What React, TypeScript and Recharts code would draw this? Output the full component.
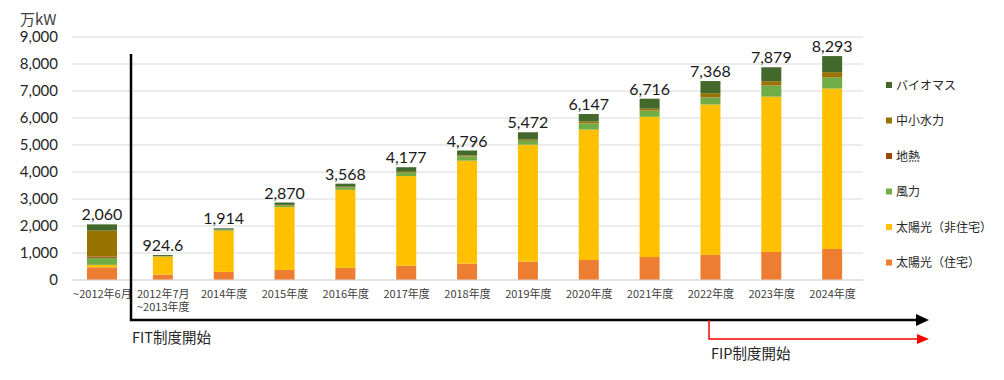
import React from "react";
import { BarChart, Bar, XAxis, YAxis, CartesianGrid, LabelList } from "recharts";

// 年度別 再エネ導入量（万kW）
const categories = [
  "~2012年6月",
  "2012年7月\n~2013年度",
  "2014年度",
  "2015年度",
  "2016年度",
  "2017年度",
  "2018年度",
  "2019年度",
  "2020年度",
  "2021年度",
  "2022年度",
  "2023年度",
  "2024年度",
];

const solarHome = [470, 200, 300, 370, 450, 530, 605, 680, 740, 850, 930, 1040, 1150];
const solarNonHome = [90, 665, 1530, 2330, 2890, 3318, 3815, 4330, 4830, 5195, 5570, 5750, 5940];
const wind = [260, 20, 30, 60, 85, 124, 150, 140, 225, 225, 260, 410, 410];
const geothermal = [50, 0.6, 1, 1, 2, 3, 3, 5, 8, 8, 10, 12, 13];
const hydro = [960, 4, 8, 20, 28, 32, 38, 45, 70, 68, 150, 150, 185];
const biomass = [230, 35, 45, 89, 113, 170, 185, 272, 274, 370, 448, 517, 595];
const totals = [2060, 924.6, 1914, 2870, 3568, 4177, 4796, 5472, 6147, 6716, 7368, 7879, 8293];

const yTicks = [0, 1000, 2000, 3000, 4000, 5000, 6000, 7000, 8000, 9000];

const series = [
  { key: "solarHome", name: "太陽光（住宅）", color: "#ED7D31", values: solarHome },
  { key: "solarNonHome", name: "太陽光（非住宅）", color: "#FFC000", values: solarNonHome },
  { key: "wind", name: "風力", color: "#70AD47", values: wind },
  { key: "geothermal", name: "地熱", color: "#9E480E", values: geothermal },
  { key: "hydro", name: "中小水力", color: "#997300", values: hydro },
  { key: "biomass", name: "バイオマス", color: "#43682B", values: biomass },
];

const data = categories.map((name, i) => {
  const row: Record<string, string | number> = { name, total: totals[i] };
  series.forEach((s) => {
    row[s.key] = s.values[i];
  });
  return row;
});

const jp = "'Noto Sans CJK JP', sans-serif";
const num = "Lato, 'Noto Sans CJK JP', sans-serif";

// first bar (FIT前) is drawn a bit wider
const BarShape = (props: any) => {
  const { x, y, width, height, fill, index } = props;
  if (!height || height <= 0) return null;
  const w = index === 0 ? width * 1.5 : width;
  return <rect x={x + width / 2 - w / 2} y={y} width={w} height={height} fill={fill} />;
};

const XTick = (props: any) => {
  const { x, y, payload } = props;
  const lines = String(payload.value).split("\n");
  return (
    <text x={x} y={y} textAnchor="middle" fill="#404040" fontSize={11} fontFamily={jp}>
      {lines.map((l, i) => (
        <tspan key={i} x={x} dy={i === 0 ? 10 : 13}>
          {l}
        </tspan>
      ))}
    </text>
  );
};

export default function App() {
  const legendItems = [...series].reverse();
  return (
    <div style={{ position: "absolute", left: 0, top: 0, width: 1004, height: 380, background: "#fff" }}>
      <BarChart
        width={1004}
        height={380}
        data={data}
        margin={{ top: 37, right: 141, bottom: 70, left: 0 }}
        barSize={20}
      >
        <CartesianGrid vertical={false} stroke="#d9d9d9" />
        <XAxis
          dataKey="name"
          height={30}
          interval={0}
          tickLine={false}
          axisLine={{ stroke: "#d9d9d9" }}
          tick={<XTick />}
        />
        <YAxis
          width={72}
          domain={[0, 9000]}
          ticks={yTicks}
          tickLine={false}
          axisLine={false}
          tickMargin={8}
          tickFormatter={(v: number) => v.toLocaleString("en-US")}
          tick={{ fill: "#262626", fontSize: 15, fontFamily: num }}
        />
        {series.map((s, i) => (
          <Bar
            key={s.key}
            dataKey={s.key}
            name={s.name}
            stackId="a"
            fill={s.color}
            shape={<BarShape />}
            isAnimationActive={false}
          >
            {i === series.length - 1 && (
              <LabelList
                dataKey="total"
                position="top"
                offset={4}
                formatter={(v: any) => Number(v).toLocaleString("en-US")}
                style={{ fill: "#1a1a1a", fontSize: 16, fontFamily: num }}
              />
            )}
          </Bar>
        ))}
      </BarChart>

      <svg
        width={1004}
        height={380}
        style={{ position: "absolute", left: 0, top: 0, pointerEvents: "none" }}
      >
        <text x={20} y={25} fontSize={15} fill="#404040" fontFamily={jp}>
          万kW
        </text>

        {/* FIT */}
        <polyline points="131,54 131,320 918,320" fill="none" stroke="#000" strokeWidth={2.5} />
        <polygon points="916,314 929,320 916,326" fill="#000" />
        <text x={132} y={343} fontSize={14.5} fill="#262626" fontFamily={jp}>
          FIT制度開始
        </text>

        {/* FIP */}
        <polyline points="709,320 709,339 918,339" fill="none" stroke="#FF0000" strokeWidth={1.5} />
        <polygon points="917,334 929,339 917,344" fill="#FF0000" />
        <text x={711} y={359} fontSize={14.5} fill="#262626" fontFamily={jp}>
          FIP制度開始
        </text>

        {/* legend */}
        {legendItems.map((s, i) => {
          const cy = 85 + i * 35.5;
          return (
            <g key={s.key}>
              <rect x={886} y={cy - 3} width={6} height={6} fill={s.color} />
              <text x={896} y={cy + 4.5} fontSize={12} fill="#262626" fontFamily={jp}>
                {s.name}
              </text>
            </g>
          );
        })}
      </svg>
    </div>
  );
}
